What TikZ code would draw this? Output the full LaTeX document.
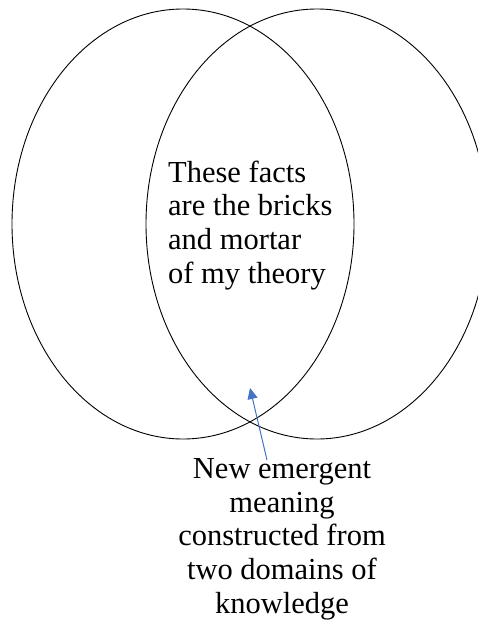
\documentclass[tikz,border=0pt]{standalone}
\usepackage{fontspec}
\setmainfont{Liberation Serif}
\usetikzlibrary{arrows.meta,shapes.geometric}
\definecolor{pointerblue}{HTML}{4472C4}
\begin{document}
\begin{tikzpicture}[x=1bp,y=-1bp,
  knowledgeset/.style={draw=black, line width=0.9bp, ellipse, inner sep=0pt,
                 minimum width=342bp, minimum height=430bp},
  bodytext/.style={inner sep=0pt, font=\fontsize{30.5bp}{33.6bp}\selectfont},
  pointer/.style={draw=pointerblue, line width=1bp,
                  -{Triangle[length=11bp,width=10bp]}}]
  \useasboundingbox (0,0) rectangle (478,626);
  \clip (0,0) rectangle (478,626);
  % two overlapping domains of knowledge
  \node[knowledgeset] (left) at (183,224) {};
  \node[knowledgeset] (right) at (317,224) {};
  % text inside the overlap (base anchor sits on the last line)
  \node[bodytext, align=left, anchor=base west] (facts) at (168,283)
    {These facts\\are the bricks\\and mortar\\of my theory};
  % caption below with its pointer into the overlap
  \node[bodytext, align=center, anchor=base] (caption) at (282,613)
    {New emergent\\meaning\\constructed from\\two domains of\\knowledge};
  \coordinate (tail) at (267,460);
  \coordinate (tip) at (250,388);
  \draw[pointer] (tail) -- (tip);
\end{tikzpicture}
\end{document}
